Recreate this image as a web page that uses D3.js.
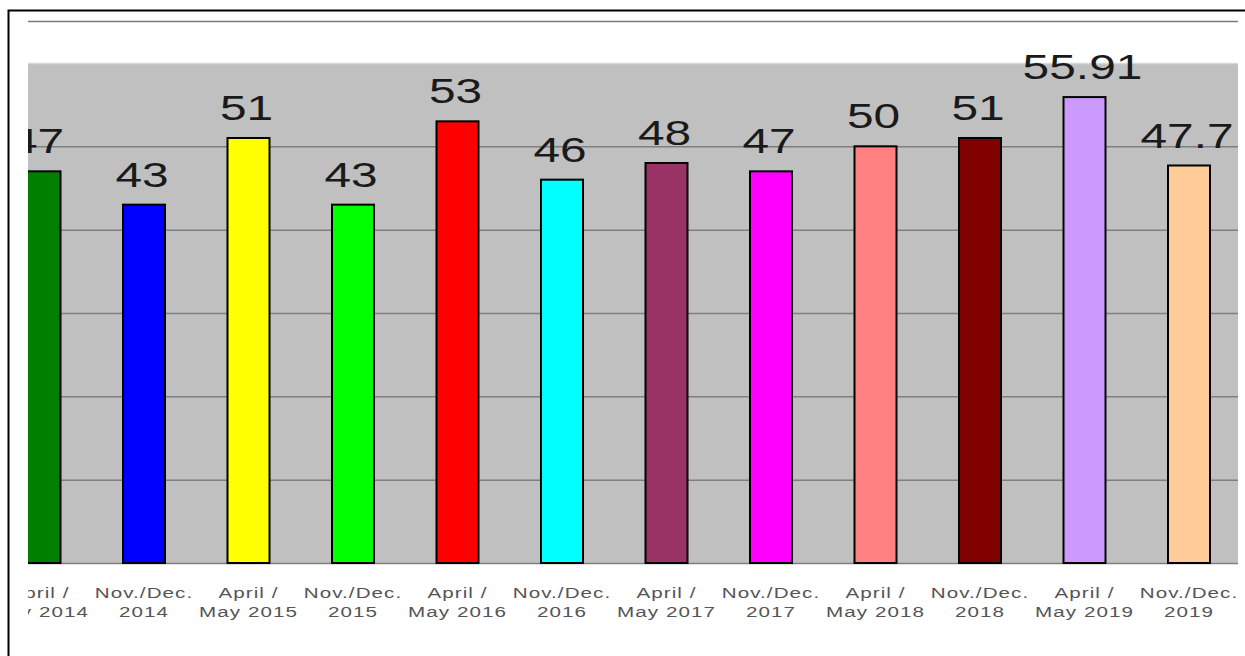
<!DOCTYPE html>
<meta charset="utf-8">
<script src="https://d3js.org/d3.v7.min.js"></script>
<style>
  body { margin: 0; background: #fff; }
  text { font-family: Arial, "Liberation Sans", sans-serif; }
</style>
<div id="chart"></div>
<script>

// data
const periodTop = ["April /", "Nov./Dec.", "April /", "Nov./Dec.", "April /", "Nov./Dec.",
                   "April /", "Nov./Dec.", "April /", "Nov./Dec.", "April /", "Nov./Dec."]
const periodBottom = ["May 2014", "2014", "May 2015", "2015", "May 2016", "2016",
                      "May 2017", "2017", "May 2018", "2018", "May 2019", "2019"]
const values = [47, 43, 51, 43, 53, 46, 48, 47, 50, 51, 55.91, 47.7]
const colors = ["#008000", "#0000ff", "#ffff00", "#00ff00", "#ff0000", "#00ffff",
                "#993366", "#ff00ff", "#ff8080", "#800000", "#cc99ff", "#ffcc99"]
const gridTicks = [0, 10, 20, 30, 40, 50, 60]

const W = 1245, H = 656
// visible plot window (the chart is cut on the left side)
const plot = {left: 28, right: 1238, top: 63, bottom: 563}
const stretch = 1.33

const cats = periodBottom.map((d, i) => periodTop[i] + " " + d)
const data = cats.map((c, i) => ({cat: c, top: periodTop[i], bottom: periodBottom[i], value: values[i], color: colors[i]}))

const svg = d3.select("#chart").append("svg")
    .attr("width", W)
    .attr("height", H)

svg.append("defs").append("clipPath")
    .attr("id", "clip")
  .append("rect")
    .attr("x", plot.left)
    .attr("y", 0)
    .attr("width", plot.right - plot.left)
    .attr("height", H)

// outer frame
svg.append("path")
    .attr("d", `M8.5,${H + 5}V10.5H${W + 5}`)
    .attr("fill", "none")
    .attr("stroke", "#000")
    .attr("stroke-width", 2)

// thin line above the plot
svg.append("line")
    .attr("x1", plot.left).attr("x2", plot.right)
    .attr("y1", 21.5).attr("y2", 21.5)
    .attr("stroke", "#7a7a7a")
    .attr("stroke-width", 1.5)

const x = d3.scaleBand()
    .domain(cats)
    .range([-12.75, 1241.25])
const barW = 42

const y = d3.scaleLinear()
    .domain([0, 60])
    .range([plot.bottom, plot.top])

// grey background
svg.append("rect")
    .attr("x", plot.left)
    .attr("y", plot.top)
    .attr("width", plot.right - plot.left)
    .attr("height", plot.bottom - plot.top)
    .attr("fill", "#c0c0c0")

// gridlines
const grid = svg.append("g")
    .attr("transform", `translate(${plot.left},0)`)
    .call(d3.axisLeft(y).tickValues(gridTicks).tickSize(-(plot.right - plot.left)).tickFormat(""))
grid.select(".domain").remove()
grid.selectAll(".tick line")
    .attr("stroke", d => d === 60 ? "#d8d8d8" : "#7f7f7f")
    .attr("stroke-width", 1.5)

const g = svg.append("g").attr("clip-path", "url(#clip)")

g.selectAll("rect.bar")
  .data(data)
  .join("rect")
    .attr("class", "bar")
    .attr("x", d => x(d.cat) + x.bandwidth() / 2 - barW / 2)
    .attr("y", d => y(d.value))
    .attr("width", barW)
    .attr("height", d => y(0) - y(d.value))
    .attr("fill", d => d.color)
    .attr("stroke", "#000")
    .attr("stroke-width", 2)

// value labels
g.selectAll("text.val")
  .data(data)
  .join("text")
    .attr("class", "val")
    .attr("transform", d => `translate(${x(d.cat) + x.bandwidth() / 2 - 2},${y(d.value) - 18}) scale(${stretch},1)`)
    .attr("text-anchor", "middle")
    .attr("font-size", 36)
    .attr("fill", "#1a1a1a")
    .text(d => String(d.value))

// category labels (two lines)
const lab = g.selectAll("g.lab")
  .data(data)
  .join("g")
    .attr("class", "lab")
    .attr("transform", d => `translate(${x(d.cat) + x.bandwidth() / 2},0)`)

lab.append("text")
    .attr("transform", `translate(0,598) scale(${stretch},1)`)
    .attr("text-anchor", "middle")
    .attr("font-size", 15.5)
    .attr("letter-spacing", 0.8)
    .attr("fill", "#555")
    .text(d => d.top)

lab.append("text")
    .attr("transform", `translate(0,617) scale(${stretch},1)`)
    .attr("text-anchor", "middle")
    .attr("font-size", 15.5)
    .attr("letter-spacing", 0.8)
    .attr("fill", "#555")
    .text(d => d.bottom)

</script>
